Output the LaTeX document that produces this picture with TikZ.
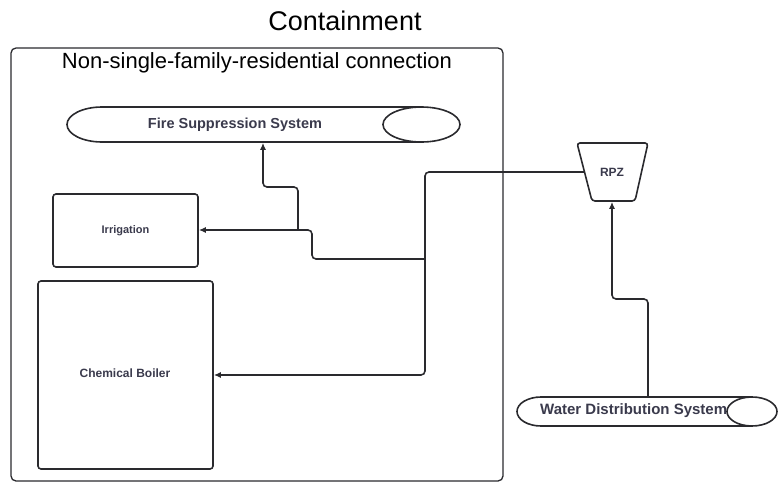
\documentclass[tikz,border=0pt]{standalone}
\usepackage{fontspec}
\setmainfont{Liberation Sans}
\usetikzlibrary{arrows.meta}
\definecolor{ln}{HTML}{2A2A2E}
\definecolor{tx}{HTML}{3A3A4C}
\tikzset{
  pipe/.style={draw=ln, line width=1.6pt, rounded corners=4pt},
  flow/.style={pipe, -{Latex[length=7pt,width=6pt]}},
  boxst/.style={draw=ln, line width=1.6pt, rounded corners=3pt},
  lbl/.style={inner sep=0pt, text=tx, font=\bfseries\fontsize{11}{12}\selectfont},
}
\begin{document}
\begin{tikzpicture}[x=1pt,y=-1pt]
\useasboundingbox (0,0) rectangle (780,482);
% titles
\node[inner sep=0pt, font=\fontsize{27}{30}\selectfont] (title) at (345,21) {Containment};
\draw[draw=ln, line width=1.3pt, rounded corners=5pt] (11,48) rectangle (503,481);
\node[inner sep=0pt, font=\fontsize{22}{24}\selectfont] (cont) at (257,63) {Non-single-family-residential connection};
% fire suppression cylinder
\draw[boxst, rounded corners=0pt] (421.5,107) -- (102,107) arc[start angle=270, end angle=90, x radius=35, y radius=17.5] -- (421.5,142);
\draw[boxst, rounded corners=0pt] (421.5,124.5) ellipse[x radius=38.5, y radius=17.5];
\node[lbl, font=\bfseries\fontsize{14.5}{16}\selectfont] (fss) at (235,125) {Fire Suppression System};
\coordinate (fssb) at (263,142.8);
% irrigation
\draw[boxst] (53,194) rectangle (198,267);
\node[lbl] (irr) at (125.5,230.5) {Irrigation};
\coordinate (irre) at (198.8,230);
% chemical boiler
\draw[boxst] (38,281) rectangle (213,469);
\node[lbl, font=\bfseries\fontsize{12}{13}\selectfont] (cb) at (125,373.5) {Chemical Boiler};
\coordinate (cbe) at (213.8,375);
% RPZ
\draw[boxst] (577,143) -- (648,143) -- (635,201) -- (592,201) -- cycle;
\node[lbl, font=\bfseries\fontsize{12}{13}\selectfont] (rpz) at (612,172) {RPZ};
\coordinate (rpzl) at (584.5,172);
\coordinate (rpzb) at (612,201.8);
% water distribution cylinder
\draw[boxst, rounded corners=0pt] (752,397) -- (541,397) arc[start angle=270, end angle=90, x radius=24, y radius=14.5] -- (752,426);
\draw[boxst, rounded corners=0pt] (752,411.5) ellipse[x radius=25, y radius=14.5];
\node[inner sep=0pt, anchor=west, text=tx, font=\bfseries\fontsize{15}{16}\selectfont] (wds) at (540,411) {Water Distribution System};
\coordinate (wdst) at (648,397);
% junctions
\coordinate (j1) at (425,259);
\coordinate (j2) at (298,230);
% connectors
\draw[flow] (rpzl) -- (425,172) -- (425,375) -- (cbe);
\draw[flow] (j1) -- (312,259) -- (312,230) -- (irre);
\draw[flow] (j2) -- (298,187) -- (263,187) -- (fssb);
\draw[flow] (wdst) -- (648,299) -- (612,299) -- (rpzb);
\end{tikzpicture}
\end{document}
